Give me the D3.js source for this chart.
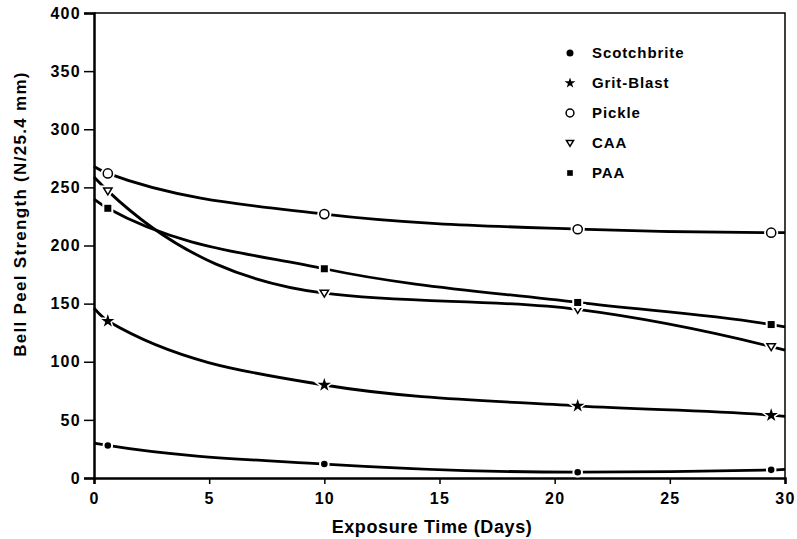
<!DOCTYPE html>
<html>
<head>
<meta charset="utf-8">
<script src="https://cdn.jsdelivr.net/npm/d3@7"></script>
<style>
body { margin: 0; background: #fff; }
text { font-family: "Liberation Sans", Arial, sans-serif; font-weight: bold; fill: #000; }
</style>
</head>
<body>
<svg id="svg" width="797" height="539"></svg>
<script>
// values
var days = [0.6, 10, 21, 29.4];
var seriesNames = ["Scotchbrite", "Grit-Blast", "Pickle", "CAA", "PAA"];
var scotchbrite = [28, 12, 5, 7];
var gritBlast = [135, 80, 62, 54];
var pickle = [262, 227, 214, 211];
var caa = [247, 159, 145, 113];
var paa = [232, 180, 151, 132];
// where each drawn curve meets the left (day 0) and right (day 30) frame
var curveAtDay0 = [30, 146, 268, 259, 240];
var curveAtDay30 = [7.5, 53, 211, 110, 130];
var xTicks = [0, 5, 10, 15, 20, 25, 30];
var yTicks = [0, 50, 100, 150, 200, 250, 300, 350, 400];

var allValues = [scotchbrite, gritBlast, pickle, caa, paa];
var markerTypes = ["dot", "star", "ring", "tri", "square"];

var svg = d3.select("#svg");
var x = d3.scaleLinear().domain([0, 30]).range([94, 785]);
var y = d3.scaleLinear().domain([0, 400]).range([478, 13]);

// frame top & right
svg.append("path")
 .attr("d", "M" + x(0) + "," + y(400) + "H" + x(30) + "V" + y(0))
 .style("fill", "none").style("stroke", "#000").style("stroke-width", 1.5);

var yAxis = svg.append("g")
 .attr("transform", "translate(" + x(0) + ",0)")
 .call(d3.axisLeft(y).tickValues(yTicks).tickSize(10).tickPadding(3));
var xAxis = svg.append("g")
 .attr("transform", "translate(0," + y(0) + ")")
 .call(d3.axisBottom(x).tickValues(xTicks).tickSize(6).tickPadding(6));

[yAxis, xAxis].forEach(function(a){
 a.select(".domain").style("stroke-width", 2.5);
 a.selectAll(".tick line").style("stroke-width", 1.5);
 a.selectAll("text").style("font-size", "16px").style("letter-spacing", "1.3px")
  .style("font-family", "'Liberation Sans', Arial, sans-serif").style("font-weight", "bold");
});
xAxis.selectAll("text").attr("dy", "0.85em");

svg.append("text")
 .attr("x", 432).attr("y", 533)
 .attr("text-anchor", "middle")
 .style("font-size", "18px").style("letter-spacing", "0.6px")
 .text("Exposure Time (Days)");

svg.append("text")
 .attr("transform", "translate(26,214) rotate(-90)")
 .attr("text-anchor", "middle")
 .style("font-size", "17px").style("letter-spacing", "1.3px")
 .text("Bell Peel Strength (N/25.4 mm)");

var line = d3.line()
 .x(function(d){ return x(d[0]); })
 .y(function(d){ return y(d[1]); })
 .curve(d3.curveMonotoneX);

function drawMarker(g, type, cx, cy, s) {
 if (type == "dot") {
  g.append("circle").attr("cx", cx).attr("cy", cy).attr("r", 4.3 * s)
   .style("fill", "#000").style("stroke", "#fff").style("stroke-width", 2);
 } else if (type == "star") {
  g.append("path").attr("d", d3.symbol().type(d3.symbolStar).size(100 * s * s)())
   .attr("transform", "translate(" + cx + "," + cy + ")")
   .style("fill", "#000").style("stroke", "#fff").style("stroke-width", 1.5);
 } else if (type == "ring") {
  g.append("circle").attr("cx", cx).attr("cy", cy).attr("r", 4.6 * s)
   .style("fill", "#fff").style("stroke", "#fff").style("stroke-width", 5);
  g.append("circle").attr("cx", cx).attr("cy", cy).attr("r", 4.6 * s)
   .style("fill", "#fff").style("stroke", "#000").style("stroke-width", 1.5);
 } else if (type == "tri") {
  var r = 4.2 * s;
  var d = "M" + (cx - r) + "," + (cy - r * 0.7) + "L" + (cx + r) + "," + (cy - r * 0.7) + "L" + cx + "," + (cy + r * 0.95) + "Z";
  g.append("path").attr("d", d).style("fill", "#fff").style("stroke", "#fff").style("stroke-width", 5);
  g.append("path").attr("d", d).style("fill", "#fff").style("stroke", "#000").style("stroke-width", 1.5);
 } else {
  var h = 4.5 * s;
  g.append("rect").attr("x", cx - h).attr("y", cy - h).attr("width", 2 * h).attr("height", 2 * h)
   .style("fill", "#000").style("stroke", "#fff").style("stroke-width", 2);
 }
}

allValues.forEach(function(vals, i){
 var pts = [[0, curveAtDay0[i]]];
 days.forEach(function(d, j){ pts.push([d, vals[j]]); });
 pts.push([30, curveAtDay30[i]]);
 svg.append("path").attr("d", line(pts))
  .style("fill", "none").style("stroke", "#000").style("stroke-width", 2.8);
});

var marks = svg.append("g");
allValues.forEach(function(vals, i){
 days.forEach(function(d, j){
  drawMarker(marks, markerTypes[i], x(d), y(vals[j]), 1);
 });
});

// legend
var legend = svg.append("g");
seriesNames.forEach(function(name, i){
 var ly = 53 + i * 30;
 drawMarker(legend, markerTypes[i], 570, ly, i == 0 ? 1.05 : 0.85);
 legend.append("text").attr("x", 592).attr("y", ly).attr("dy", "0.35em")
  .style("font-size", "15px").style("letter-spacing", "0.9px")
  .text(name);
});
</script>
</body>
</html>
